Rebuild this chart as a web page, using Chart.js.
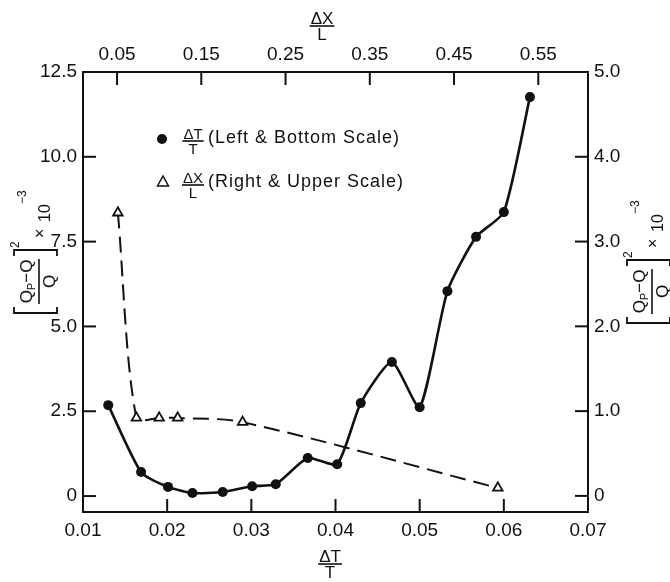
<!DOCTYPE html>
<html>
<head>
<meta charset="utf-8">
<script src="https://cdn.jsdelivr.net/npm/chart.js@4.4.0/dist/chart.umd.min.js"></script>
<style>
html,body{margin:0;padding:0;background:#fff;}
#wrap{width:670px;height:582px;}
</style>
</head>
<body>
<div id="wrap"><canvas id="c" width="670" height="582"></canvas></div>
<script>
// ---- data ----
const dtT      = [0.0130,0.0169,0.0201,0.0230,0.0266,0.0301,0.0329,0.0367,0.0402,0.0430,0.0467,0.0500,0.0533,0.0567,0.0600,0.0631];
const errDT    = [2.68,0.71,0.27,0.09,0.12,0.29,0.35,1.12,0.94,2.74,3.95,2.62,6.04,7.64,8.37,11.76];
const dxL      = [0.051,0.073,0.100,0.122,0.199,0.502];
const errDX    = [3.34,0.92,0.92,0.92,0.87,0.094];
const bottomTicks = [0.01,0.02,0.03,0.04,0.05,0.06,0.07];
const topTicks    = [0.05,0.15,0.25,0.35,0.45,0.55];
const leftTicks   = [0,2.5,5,7.5,10,12.5];
const rightTicks  = [0,1,2,3,4,5];

const F = '"Liberation Sans", Arial, sans-serif';
const INK = '#111';

function fixTicks(arr){ return function(scale){ scale.ticks = arr.map(v=>({value:v})); }; }
function fitW(w){ return function(s){ s.width = w; }; }
function fitH(h){ return function(s){ s.height = h; }; }
const tickFont = {family:F, size:19};

function runs(ctx, items, x, y, align){
  let w = 0;
  items.forEach(([t,s])=>{ ctx.font = s+'px '+F; w += ctx.measureText(t).width; });
  let cx = align==='center' ? x - w/2 : x;
  items.forEach(([t,s,dy])=>{ ctx.font = s+'px '+F; ctx.fillText(t, cx, y+(dy||0)); cx += ctx.measureText(t).width; });
  return w;
}
function hline(ctx,x1,x2,y){ ctx.beginPath(); ctx.moveTo(x1,y); ctx.lineTo(x2,y); ctx.stroke(); }

function frac(ctx, numItems, den, cx, ly, size){
  ctx.textBaseline = 'alphabetic';
  const w = runs(ctx, numItems, cx, ly-2, 'center');
  ctx.lineWidth = 1.6;
  hline(ctx, cx-w/2-1, cx+w/2+1, ly);
  ctx.font = size+'px '+F;
  ctx.textAlign = 'left';
  runs(ctx, [[den,size]], cx, ly+2+size*0.72, 'center');
}

function qLabel(ctx, ox, oy){
  ctx.save();
  ctx.translate(ox, oy);
  ctx.rotate(-Math.PI/2);
  ctx.fillStyle = INK; ctx.strokeStyle = INK;
  ctx.textBaseline = 'alphabetic'; ctx.textAlign='left';
  ctx.lineWidth = 1.8;
  ctx.beginPath(); ctx.moveTo(6,-25); ctx.lineTo(0,-25); ctx.lineTo(0,18); ctx.lineTo(6,18); ctx.stroke();
  ctx.beginPath(); ctx.moveTo(57,-25); ctx.lineTo(63,-25); ctx.lineTo(63,18); ctx.lineTo(57,18); ctx.stroke();
  runs(ctx, [['Q',17],['P',11,3],['\u2212Q',17]], 31.5, -7, 'center');
  ctx.lineWidth = 1.6; hline(ctx, 9, 54, 0);
  runs(ctx, [['Q',17]], 31.5, 16, 'center');
  runs(ctx, [['2',12]], 65, -20, 'left');
  runs(ctx, [['\u00d7',16]], 75, 6, 'left');
  runs(ctx, [['10',16]], 91, 11, 'left');
  runs(ctx, [['\u22123',12]], 109, -13, 'left');
  ctx.restore();
}

const decor = {
  id:'decor',
  afterDraw(chart){
    const {ctx, chartArea:a, scales} = chart;
    ctx.save();
    ctx.strokeStyle = INK; ctx.fillStyle = INK; ctx.lineWidth = 2;
    const L = 13;
    const seg=(x1,y1,x2,y2)=>{ctx.beginPath();ctx.moveTo(x1,y1);ctx.lineTo(x2,y2);ctx.stroke();};
    bottomTicks.forEach(v=>{const x=scales.x.getPixelForValue(v); seg(x,a.bottom,x,a.bottom-L);});
    topTicks.forEach(v=>{const x=scales.x2.getPixelForValue(v); seg(x,a.top,x,a.top+L);});
    leftTicks.forEach(v=>{const y=scales.y.getPixelForValue(v); seg(a.left,y,a.left+L,y);});
    rightTicks.forEach(v=>{const y=scales.y2.getPixelForValue(v); seg(a.right,y,a.right-L,y);});

    // axis titles
    frac(ctx, [['\u0394X',17]], 'L', 322, 26, 17);
    frac(ctx, [['\u0394T',17]], 'T', 330, 564, 17);
    qLabel(ctx, 39, 313);
    qLabel(ctx, 652, 323);

    // legend
    ctx.beginPath(); ctx.arc(162,139,5,0,Math.PI*2); ctx.fill();
    frac(ctx, [['\u0394T',15]], 'T', 193, 141, 15);
    ctx.letterSpacing = '1px';
    ctx.textBaseline = 'middle';
    runs(ctx, [['(Left & Bottom Scale)',18]], 208, 138, 'left');
    ctx.letterSpacing = '0px';
    ctx.lineWidth = 1.5; ctx.fillStyle='#fff';
    ctx.beginPath(); ctx.moveTo(163,176); ctx.lineTo(168.5,186); ctx.lineTo(157.5,186); ctx.closePath(); ctx.fill(); ctx.stroke();
    ctx.fillStyle = INK;
    frac(ctx, [['\u0394X',15]], 'L', 193, 185, 15);
    ctx.letterSpacing = '1px';
    ctx.textBaseline = 'middle';
    runs(ctx, [['(Right & Upper Scale)',18]], 208, 182, 'left');
    ctx.letterSpacing = '0px';
    ctx.restore();
  }
};

const commonGrid = {drawOnChartArea:false, drawTicks:false, display:true};
const border = {display:true, color:INK, width:2};

new Chart(document.getElementById('c'), {
  type:'scatter',
  data:{
    datasets:[
      {
        label:'dT/T',
        data: dtT.map((x,i)=>({x, y:errDT[i]})),
        xAxisID:'x', yAxisID:'y',
        showLine:true, tension:0.2,
        borderColor:INK, borderWidth:2.6,
        pointRadius:5, pointBackgroundColor:INK, pointBorderColor:INK, pointBorderWidth:0,
        pointStyle:'circle'
      },
      {
        label:'dX/L',
        data: dxL.map((x,i)=>({x, y:errDX[i]})),
        xAxisID:'x2', yAxisID:'y2',
        showLine:true, tension:0.3,
        borderColor:INK, borderWidth:2, borderDash:[16,8],
        pointRadius:5.5, pointStyle:'triangle',
        pointBackgroundColor:'#fff', pointBorderColor:INK, pointBorderWidth:1.8
      }
    ]
  },
  options:{
    responsive:false, animation:false,
    layout:{padding:0},
    plugins:{legend:{display:false}, tooltip:{enabled:false}},
    scales:{
      x:{type:'linear', position:'bottom', min:0.01, max:0.07,
         afterBuildTicks:fixTicks(bottomTicks), afterFit:fitH(70),
         grid:commonGrid, border,
         ticks:{color:INK, font:tickFont, padding:7, maxRotation:0, autoSkip:false, callback:v=>v.toFixed(2)}},
      x2:{type:'linear', position:'top', min:0.0096, max:0.609,
         afterBuildTicks:fixTicks(topTicks), afterFit:fitH(72),
         grid:commonGrid, border,
         ticks:{color:INK, font:tickFont, padding:6, maxRotation:0, autoSkip:false, callback:v=>v.toFixed(2)}},
      y:{type:'linear', position:'left', min:-0.47, max:12.5,
         afterBuildTicks:fixTicks(leftTicks), afterFit:fitW(83),
         grid:commonGrid, border,
         ticks:{color:INK, font:tickFont, padding:6, autoSkip:false, callback:v=>v===0?'0':v.toFixed(1)}},
      y2:{type:'linear', position:'right', min:-0.19, max:5.0,
         afterBuildTicks:fixTicks(rightTicks), afterFit:fitW(82),
         grid:commonGrid, border,
         ticks:{color:INK, font:tickFont, padding:6, autoSkip:false, callback:v=>v===0?'0':v.toFixed(1)}}
    }
  },
  plugins:[decor]
});
</script>
</body>
</html>
